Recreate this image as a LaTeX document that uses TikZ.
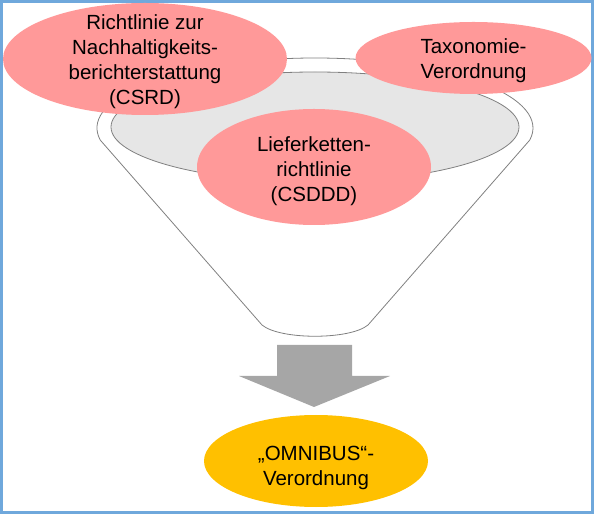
\documentclass[tikz,border=0pt]{standalone}
\usepackage{fontspec}
\setmainfont{Liberation Sans}
\usepackage{tikz}
\usetikzlibrary{calc}
\usetikzlibrary{shapes}
\definecolor{lawpink}{RGB}{255,153,153}
\definecolor{omniyellow}{RGB}{255,192,0}
\definecolor{rimgray}{RGB}{230,230,230}
\definecolor{arrowgray}{RGB}{166,166,166}
\definecolor{frameblue}{RGB}{111,168,220}

\begin{document}
\begin{tikzpicture}[x=1pt,y=1pt,
		law/.style={ellipse,fill=lawpink,draw=none,inner sep=0pt},
		txt/.style={align=center,inner sep=0pt,font=\fontsize{20.5}{25}\selectfont},
		funnel/.style={draw=gray,line width=0.8pt}]
		\useasboundingbox (0,0) rectangle (594,514);
		\draw[frameblue,line width=3pt] (1.5,1.5) rectangle (592.5,512.5);
		
		% funnel
		\coordinate (rim) at (315,386);
		\draw[funnel,fill=white] (262,189) -- ($(rim)+(190:218 and 70)$) arc (190:-10:218 and 70) -- (368,189)
			.. controls (350,174) and (280,174) .. (262,189);
		\draw[funnel,fill=rimgray] (315,387) ellipse (204 and 55);
		
		% laws
		\node[law,minimum width=234,minimum height=116] (csddd) at (314,347) {};
		\node[txt,yshift=-4] at (csddd) {Lieferketten-\\richtlinie\\(CSDDD)};
		\node[law,minimum width=284,minimum height=112] (csrd) at (145,455) {};
		\node[txt,yshift=-3] at (csrd) {Richtlinie zur\\Nachhaltigkeits-\\berichterstattung\\(CSRD)};
		\node[law,minimum width=236,minimum height=72] (taxo) at (473.5,456) {};
		\node[txt,yshift=-3] at (taxo) {Taxonomie-\\Verordnung};
		
		% arrow
		\fill[arrowgray] (277,169) -- (352,169) -- (352,138) -- (390,138) -- (314,107) -- (239,138) -- (277,138) -- cycle;
		
		\node[law,fill=omniyellow,minimum width=224,minimum height=92] (omni) at (316,53) {};
		\node[txt,yshift=-7] at (omni) {„OMNIBUS“-\\Verordnung};
\end{tikzpicture}
\end{document}
